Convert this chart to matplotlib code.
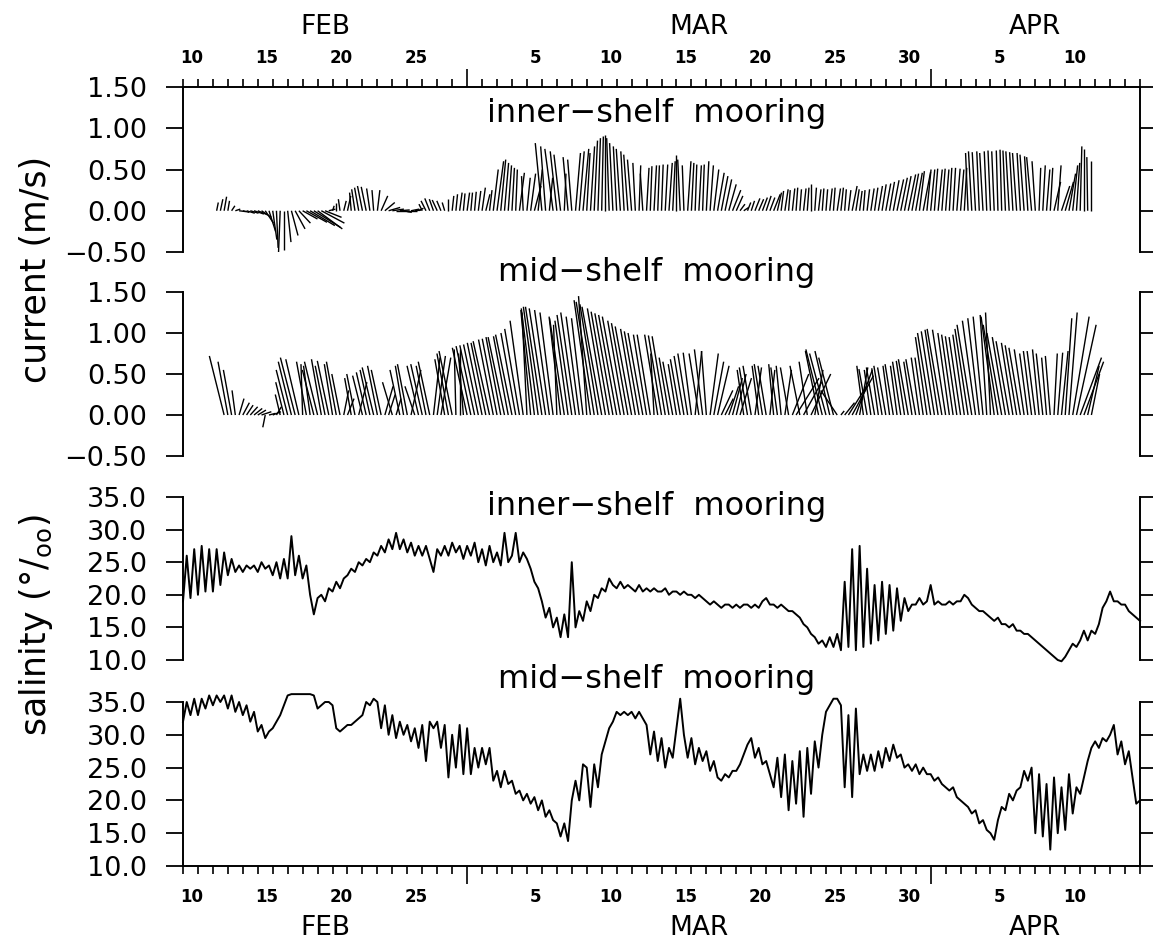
import numpy as np
import matplotlib
matplotlib.use("Agg")
import matplotlib.pyplot as plt
from matplotlib.collections import LineCollection
import matplotlib.transforms as mtransforms

# ---------------- data (time in days since 10 Feb 00:00, 6-hourly) ----------------
DT = 0.25

inner_cur_t0 = 2.25
inner_cur_v = [10, 14, 17,
    12, 6, 2, -1,   -2, -3, -3, -4,   -5, -8, -15, -25,   -35, -45, -50, -47,
    -38, -30, -22, -15,   -10, -14, -18, -20,   -22, -15, -8, 2,   6, 10, 14, 12,
    18, 22, 26, 28,   30, 29, 27, 25,   25, 18, 10, 4,   2, 0, 1, -2,
    0, 2, 1, 3,   8, 12, 15, 14,   13, 12, 10, 14,   18, 20, 22, 21,
    22, 22, 23, 24,   28, 20, 25, 50,   60, 62, 58, 55,   52, 50, 46, 42,
    40, 45, 30, 50,   82, 78, 40, 75,   72, 68, 45, 65,   62, 70, 72, 75,
    70, 78, 85, 88,   90, 92, 88, 82,   78, 75, 72, 68,   62, 58, 55, 45,
    52, 54, 55, 55,   56, 56, 58, 60,   67, 62, 55, 60,   58, 56, 55, 56,
    60, 55, 50, 46,   42, 38, 32, 25,   18, 8, 4, 10,   12, 15, 14, 16,
    18, 16, 20, 22,   24, 26, 25, 27,   28, 26, 27, 28,   33, 28, 26, 27,
    26, 27, 28, 27,   28, 26, 25, 30,   26, 24, 25, 26,   27, 28, 30, 32,
    33, 35, 37, 38,   40, 42, 44, 45,   46, 48, 47, 50,   50, 51, 50, 51,
    50, 52, 52, 51,   50, 52, 70, 72,   71, 72, 70, 72,   73, 72, 73, 74,
    73, 72, 71, 70,   70, 68, 66, 65,   60, 52, 55, 50,   52, 35, 55, 30,
    35, 45, 55, 58,   78, 75, 65, 60]
inner_cur_u = [2, 3, 3,
    2, 4, 6, 8,   8, 10, 10, 12,   12, 12, 10, 8,   5, 2, -2, 0,
    4, 8, 12, 14,   18, 25, 30, 32,   30, 28, 20, 8,   2, 0, -2, 3,
    4, -2, -4, -5,   -6, -6, -4, -2,   3, 8, 12, 14,   14, 16, 12, 10,
    12, 10, 8, 6,   -4, -6, -6, -5,   -6, -5, -3, 0,   2, 2, 3, 2,
    3, 2, 2, 3,   4, 5, 3, 6,   8, 6, 5, 4,   3, 2, 6, -2,
    4, 6, 8, 5,   -8, -6, 4, -10,   -8, -8, 2, -6,   -5, 6, 6, 7,
    4, 5, 4, 3,   2, 0, -3, -4,   -4, -5, -4, -5,   -5, -3, 2, -3,
    3, 2, 3, 2,   2, 3, 4, 3,   0, -3, -2, 4,   3, 2, 3, 2,
    3, 4, 6, 8,   8, 8, 9, 10,   8, 6, 6, 4,   4, 6, 6, 6,
    6, 6, 8, 5,   3, 4, 2, 3,   2, 2, 3, 2,   0, 2, 3, 2,
    2, 3, 2, 4,   3, 2, 3, 6,   4, 3, 2, 3,   4, 4, 5, 5,
    6, 6, 7, 8,   8, 8, 9, 8,   8, 6, 9, 5,   5, 4, 5, 4,
    4, 3, 3, 4,   4, 3, -3, -4,   -4, -3, -4, -3,   -3, -3, -2, -2,
    -3, -4, -4, -5,   -4, -5, -4, -6,   -4, 2, 3, 4,   3, 8, 4, 10,
    10, 8, 6, 4,   2, 0, -1, 0]

mid_cur_t0 = 2.75
mid_cur_v = [72,
    65, 55, 30, 20,   15, 12, 10, 8,   6, 4, -15, 2,   4, 10, 25, 40,
    55, 65, 70, 68,   62, 65, 60, 55,   65, 68, 60, 66,   62, 65, 50, 30,
    20, 45, 50, 40,   48, 52, 55, 58,   60, 55, 35, 25,   40, 20, 55, 60,
    62, 55, 35, 60,   62, 60, 65, 70,   72, 70, 68, 75,   78, 80, 80, 75,
    82, 84, 85, 86,   88, 88, 90, 92,   93, 95, 95, 96,   98, 100, 105, 115,
    125, 128, 130, 132,   132, 130, 128, 125,   110, 120, 118, 115,   122, 125, 120, 118,
    145, 140, 138, 135,   132, 130, 126, 124,   122, 120, 115, 112,   108, 105, 102, 100,
    98, 98, 75, 98,   97, 96, 70, 65,   62, 68, 72, 75,   76, 78, 75, 80,
    78, 75, 65, 60,   30, 20, 35, 45,   50, 45, 55, 58,   60, 58, 60, 62,
    60, 55, 62, 58,   60, 55, 58, 50,   45, 60, 40, 65,   50, 55, 78, 80,
    75, 78, 70, 30,   5, 15, 35, 48,   55, 58, 60, 56,   55, 58, 57, 60,
    58, 60, 62, 60,   65, 66, 68, 65,   68, 70, 70, 95,   100, 102, 104, 105,
    104, 100, 98, 96,   95, 98, 105, 110,   115, 118, 120, 122,   125, 120, 110, 100,
    95, 90, 88, 85,   82, 80, 75, 78,   78, 80, 75, 70,   72, 75, 76, 78,
    118, 125, 120, 110,   70, 65, 60, 50]
mid_cur_u = [-18,
    -12, -10, -4, 6,   8, 8, 9, 10,   10, 12, -3, 8,   10, 6, -6, -10,
    -14, -16, -18, -16,   -2, -12, -8, -14,   -16, -12, -12, -14,   -10, -12, -10, 6,
    8, -8, -10, 10,   -12, -12, -12, -14,   -12, -12, 10, 8,   -12, 6, -12, -10,
    -12, 12, -12, -14,   -14, -12, -14, 8,   10, 12, -12, -14,   -16, -2, 0, -6,
    -18, -18, -18, -18,   -18, -18, -20, -18,   -18, -18, -20, -18,   -20, -18, -18, -16,
    -6, -12, -16, -18,   -20, -20, -18, -16,   -4, -14, -18, -16,   -18, -18, -16, -14,
    -10, -20, -22, -22,   -24, -22, -22, -22,   -22, -22, -20, -20,   -20, -18, -18, -18,
    -16, -16, -4, -16,   -16, -16, -12, -12,   -10, -12, -12, -12,   -10, 8, -12, -10,
    -6, 10, 12, 14,   14, 10, 12, 12,   12, 14, -8, -10,   -10, 8, -8, -10,
    -10, 6, -6, -8,   -6, 8, -10, 20,   28, -12, 22, -10,   24, 10, -16, -20,
    -20, -18, -18, -20,   4, 12, 22, 26,   20, 10, -8, -10,   -8, -10, -8, -10,
    -10, -8, -10, -8,   -10, -10, -12, -10,   -12, -10, -10, -14,   -16, -16, -16, -18,
    -16, -14, -14, -14,   -14, -14, -16, -18,   -16, -14, -12, -8,   -6, -16, -18, -18,
    -16, -16, -14, -14,   -14, -12, -10, -10,   -10, -8, -8, -6,   -6, 4, 6, 8,
    8, 10, 20, 24,   26, 24, 14, 10]

sal_t0 = 0.0
inner_sal = [
    19, 26, 19.5, 27,   20, 27.5, 20.5, 27,   20.5, 27, 21.5, 26.5,   23, 25.5, 23.5, 24.5,
    23.5, 24.5, 24, 24.5,   23.5, 25, 24, 24.5,   23, 25, 22.5, 25.5,   22.5, 29, 23, 26,
    22.5, 24.5, 20, 17,   19.5, 20, 19, 21,   20.5, 22, 21, 22.5,   23, 24, 23.5, 25,
    24.5, 25.5, 25, 26.5,   26, 27.5, 26.5, 28.5,   27, 29.5, 27, 28.5,   26.5, 28, 26, 27.5,
    26, 27.5, 25.5, 23.5,   27, 26, 27.5, 26,   28, 26.5, 27.5, 25.5,   27.5, 26, 28, 25,
    27, 24.5, 27.5, 25,   26.5, 24.5, 29.5, 25,   26, 29.5, 25, 26.5,   25.5, 24, 22, 21,
    19, 16.5, 18, 15,   16.5, 13.5, 17, 13.5,   25, 15, 17.5, 16,   19, 17.5, 20, 19.5,
    21, 20.5, 22.5, 21.5,   21, 22, 21, 21.5,   21, 20.5, 21.5, 20.5,   21, 20.5, 21, 20.5,
    20.5, 21, 20, 20.5,   20.5, 20, 20.5, 20,   20, 19.5, 20, 19.5,   19, 18.5, 19, 18.5,
    18, 18.5, 18.5, 18,   18.5, 18, 18.5, 18.5,   18, 18.5, 18, 19,   19.5, 18.5, 18.5, 18,
    18.5, 18, 17.5, 17.5,   17, 16.5, 15.5, 15,   14, 13.5, 12.5, 13,   12, 13.5, 12, 14,
    11.5, 22, 12, 27,   11.5, 27.5, 12, 24,   12.5, 21.5, 13, 22,   14, 21.5, 14.5, 21,
    16, 19.5, 17.5, 18.5,   18.5, 19.5, 18.5, 19,   21.5, 18.5, 19, 18.5,   18.5, 19, 18.5, 19,
    19, 20, 19.5, 18.5,   18, 17.5, 17.5, 17,   16.5, 16, 16.5, 15.5,   15.5, 15, 15.5, 14.5,
    14.5, 14, 14, 13.5,   13, 12.5, 12, 11.5,   11, 10.5, 10, 9.8,   10.5, 11.5, 12.5, 12,
    13, 14.5, 13, 14.5,   14, 15.5, 18, 19,   20.5, 19, 19, 18.5,   18.5, 17.5, 17, 16.5,
    16]
mid_sal = [
    32, 35, 33, 35.5,   33, 35.5, 34, 36,   34.5, 36, 35, 36,   34, 36, 33.5, 35,
    33, 34.5, 32, 33.5,   30.5, 31.5, 29.5, 30.5,   31, 32, 33, 34.5,   36, 36.2, 36.2, 36.2,
    36.2, 36.2, 36.2, 36,   34, 34.5, 35, 35,   34.5, 31, 30.5, 31,   31.5, 31.5, 32, 32.5,
    33, 35, 34.5, 35.5,   35, 31, 34.5, 30,   33, 29.5, 32, 30,   31.5, 29, 31, 28,
    31.5, 26, 32, 31,   32, 28, 31.5, 23.5,   30, 25, 31.5, 24,   31, 24, 28, 25,
    28, 25.5, 28, 23,   24.5, 22, 24.5, 22.5,   23, 21, 21.5, 20,   21, 19.5, 20.5, 18.5,
    20, 17.5, 18.5, 17,   16.5, 14.5, 16.5, 13.8,   20, 23, 20, 25.5,   25, 19, 25.5, 22,
    27, 29, 31, 32,   33.5, 33, 33.5, 33,   33.5, 32.5, 33.5, 32.5,   31.5, 27, 30.5, 26,
    29.5, 25, 28, 26.5,   31, 35.5, 30, 26.5,   29.5, 25.5, 28, 26,   27.5, 24.5, 26, 23.5,
    23, 24, 23.5, 24.5,   24.5, 25.5, 27, 28.5,   29.5, 26.5, 28, 25.5,   26, 24, 22, 26.5,
    20.5, 27, 18.5, 26,   19.5, 27.5, 17.5, 28,   21, 29, 25, 30,   33.5, 34.5, 35.5, 35.5,
    34.5, 22, 33, 20.5,   34, 24, 27, 24.5,   27, 24.5, 27.5, 25,   28, 26, 28.5, 26.5,
    27, 25, 25.5, 24.5,   25.5, 24, 25, 24,   24, 23, 23.5, 22.5,   22, 21.5, 22, 20.5,
    20, 19.5, 19, 18,   18.5, 16.5, 17, 15.5,   15, 14, 17, 19,   18.5, 21, 20, 21.5,
    22, 24.5, 23, 25,   15, 24, 14.5, 22.5,   12.5, 23.5, 15, 22,   15.5, 24, 18, 22,
    21, 23.5, 26, 28,   29, 28, 29.5, 29,   30, 31.5, 27, 29,   25.5, 27.5, 23.5, 19.5,
    20]

day_label_days = [0, 5, 10, 15, 23, 28, 33, 38, 43, 48, 54, 59]
day_labels = ['10', '15', '20', '25', '5', '10', '15', '20', '25', '30', '5', '10']
month_names = ['FEB', 'MAR', 'APR']
month_bounds = [0, 19, 50, 64]
panel_titles = ['inner\u2212shelf  mooring', 'mid\u2212shelf  mooring',
                'inner\u2212shelf  mooring', 'mid\u2212shelf  mooring']

# ---------------- figure ----------------
W, H = 1155, 942
plt.rcParams['font.family'] = ['DejaVu Sans']
fig = plt.figure(figsize=(W / 100, H / 100), dpi=100)

def fx(px):
    return px / W

def fy(py):
    return 1 - py / H

left_px, right_px = 183, 1140
panels_px = [(87, 252), (292, 456), (497, 660), (702, 866)]
axes = []
for top, bot in panels_px:
    ax = fig.add_axes([fx(left_px), fy(bot), fx(right_px - left_px), (bot - top) / H])
    axes.append(ax)

XMAX = 64.0
for i, ax in enumerate(axes):
    ax.set_xlim(0, XMAX)
    for s in ax.spines.values():
        s.set_linewidth(1.4)
    ax.spines['top'].set_visible(i == 0)
    ax.spines['bottom'].set_visible(i == 3)
    ax.tick_params(axis='y', which='major', direction='out', length=12, width=1.3,
                   labelsize=19.5, pad=14, right=True, left=True, labelright=False)
    if i < 2:
        ax.set_ylim(-0.5, 1.5)
        ax.set_yticks([-0.5, 0.0, 0.5, 1.0, 1.5])
        ax.set_yticklabels(['\u22120.50', '0.00', '0.50', '1.00', '1.50'])
    else:
        ax.set_ylim(10, 35)
        ax.set_yticks([10, 15, 20, 25, 30, 35])
        ax.set_yticklabels(['10.0', '15.0', '20.0', '25.0', '30.0', '35.0'])
    for t in ax.yaxis.get_major_ticks():
        t.tick2line.set_markersize(9)
    if i == 0 or i == 3:
        ax.set_xticks(month_bounds[1:3])
        ax.set_xticks(np.arange(0, 65, 1), minor=True)
        pos = 'top' if i == 0 else 'bottom'
        ax.xaxis.set_ticks_position(pos)
        ax.tick_params(axis='x', which='major', direction='out', length=13, width=1.2,
                       labelbottom=False, labeltop=False)
        ax.tick_params(axis='x', which='minor', direction='out', length=6, width=1.2,
                       labelbottom=False, labeltop=False)
    else:
        ax.set_xticks([])

# ---------------- sticks ----------------
def stick_segments(ax, t0, u_cm, v_cm):
    n = min(len(u_cm), len(v_cm))
    t = t0 + DT * np.arange(n)
    u = np.asarray(u_cm[:n], float) / 100.0
    v = np.asarray(v_cm[:n], float) / 100.0
    bb = ax.get_position()
    px_per_day = bb.width * W / (ax.get_xlim()[1] - ax.get_xlim()[0])
    px_per_unit = bb.height * H / (ax.get_ylim()[1] - ax.get_ylim()[0])
    k = px_per_unit / px_per_day
    return [[(ti, 0.0), (ti + ui * k, vi)] for ti, ui, vi in zip(t, u, v)]

for ax, t0, u, v in [(axes[0], inner_cur_t0, inner_cur_u, inner_cur_v),
                     (axes[1], mid_cur_t0, mid_cur_u, mid_cur_v)]:
    lc = LineCollection(stick_segments(ax, t0, u, v), colors='black', linewidths=1.0)
    ax.add_collection(lc)

# ---------------- salinity ----------------
for ax, s in [(axes[2], inner_sal), (axes[3], mid_sal)]:
    t = sal_t0 + DT * np.arange(len(s))
    ax.plot(t, s, color='black', lw=1.4, clip_on=False)

# ---------------- text ----------------
title_y = [1.18, 1.74, 33.6, 38.4]
for ax, title, ty in zip(axes, panel_titles, title_y):
    ax.text(31.7, ty, title, ha='center', va='center', fontsize=23, clip_on=False)

for ax, ylab, mon in [(axes[0], 58, 27), (axes[3], 897, 928)]:
    tr = mtransforms.blended_transform_factory(ax.transData, fig.transFigure)
    for d, lab in zip(day_label_days, day_labels):
        ax.text(d + 0.6, fy(ylab), lab, transform=tr, ha='center', va='center',
                fontsize=12, fontweight='bold')
    for m, name in enumerate(month_names):
        mid = 0.5 * (month_bounds[m] + month_bounds[m + 1])
        ax.text(mid, fy(mon), name, transform=tr, ha='center', va='center', fontsize=19)

fig.text(fx(36), fy(269), 'current (m/s)', rotation=90, ha='center', va='center', fontsize=25)
fig.text(fx(36), fy(625), 'salinity (\u00b0/$_{\\mathregular{oo}}$)', rotation=90,
         ha='center', va='center', fontsize=25)

fig.savefig('out.png', dpi=100)
